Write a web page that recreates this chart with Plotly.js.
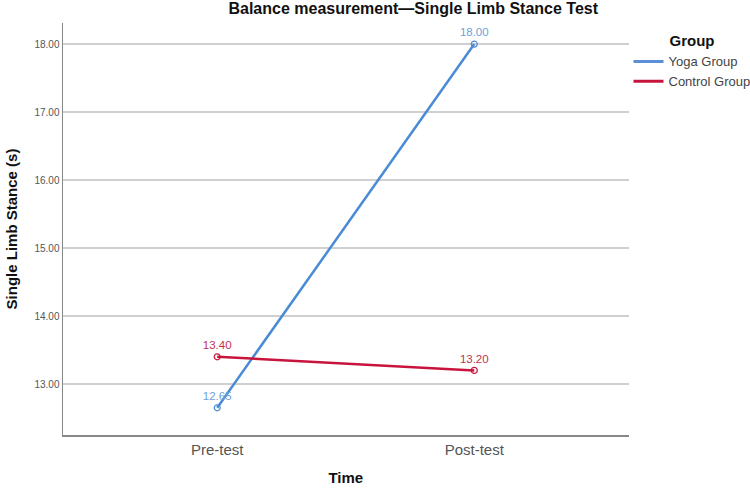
<!DOCTYPE html>
<html><head><meta charset="utf-8">
<script src="https://cdn.plot.ly/plotly-3.0.1.min.js"></script>
<style>html,body{margin:0;padding:0;background:#fff}</style>
</head><body>
<div id="chart" style="width:750px;height:490px"></div>
<script>
const timePoints = ["Pre-test", "Post-test"];
const yogaValues = [12.65, 18.00];
const controlValues = [13.40, 13.20];
const groupNames = ["Yoga Group", "Control Group"];
const yTicks = [13, 14, 15, 16, 17, 18];

const FONT = "Liberation Sans, Arial, sans-serif";
const blue = "#4a8bd6", red = "#c8143c";

function mk(name, vals, color, tcolor) {
  return {
    type: "scatter", mode: "lines+markers+text", name: name, showlegend: false,
    x: timePoints, y: vals,
    text: vals.map(v => v.toFixed(2)), textposition: "top center",
    textfont: {family: FONT, size: 11.5, color: tcolor},
    line: {color: color, width: 2.5},
    marker: {symbol: "circle-open", size: 6, color: color, line: {width: 1.2, color: color}},
    cliponaxis: false
  };
}
function legendOnly(name, color) {
  return {type: "scatter", mode: "lines", name: name, x: [null], y: [null],
          line: {color: color, width: 3}, showlegend: true};
}
const data = [
  mk(groupNames[0], yogaValues, blue, "#6d9fd8"),
  mk(groupNames[1], controlValues, red, "#c33050"),
  legendOnly(groupNames[0], "#5b8fd6"),
  legendOnly(groupNames[1], red)
];
const layout = {
  width: 750, height: 490,
  margin: {l: 63, r: 118, t: 23, b: 55},
  paper_bgcolor: "#fff", plot_bgcolor: "#fff",
  font: {family: FONT, color: "#333"},
  title: {text: "<b>Balance measurement\u2014Single Limb Stance Test</b>", font: {size: 16, color: "#111", family: FONT},
          x: 0.551, xref: "container", xanchor: "center", yref: "container", y: 0.995, yanchor: "top"},
  xaxis: {type: "category", range: [-0.6, 1.6], showgrid: false, zeroline: false,
          showline: true, linecolor: "#888", linewidth: 1.5, ticks: "",
          tickfont: {size: 15, color: "#555", family: FONT},
          title: {text: "<b>Time</b>", font: {size: 15, color: "#111", family: FONT}, standoff: 16}},
  yaxis: {range: [12.25, 18.31], tickvals: yTicks, ticktext: yTicks.map(v => v.toFixed(2)),
          showgrid: true, gridcolor: "#d0d0d0", gridwidth: 1.2, zeroline: false,
          showline: true, linecolor: "#888", linewidth: 1.5, ticks: "",
          tickfont: {size: 10, color: "#555", family: FONT},
          title: {text: "<b>Single Limb Stance (s)</b>", font: {size: 15, color: "#111", family: FONT}, standoff: 13}},
  legend: {xref: "container", yref: "container", x: 0.838, xanchor: "left", y: 0.945, yanchor: "top", bgcolor: "rgba(0,0,0,0)",
           title: {text: "<b>Group</b>", font: {size: 15, color: "#111", family: FONT}, side: "top center"},
           font: {size: 13, color: "#444", family: FONT}, itemwidth: 30, tracegroupgap: 0},
  showlegend: true
};
Plotly.newPlot("chart", data, layout, {displayModeBar: false, staticPlot: true});
</script>
</body></html>
